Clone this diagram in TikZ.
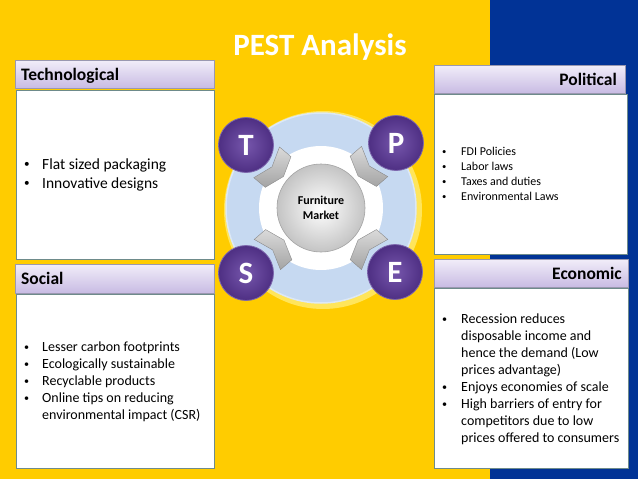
\documentclass[tikz,border=0pt]{standalone}
\usepackage{fontspec}
\usepackage{graphicx}
\setmainfont{Carlito}
\usetikzlibrary{calc,shadings}
\definecolor{bgyellow}{HTML}{FFCC00}
\definecolor{bgblue}{HTML}{013396}
\definecolor{hdrtop}{HTML}{F1EDF9}
\definecolor{hdrbot}{HTML}{C8BBE3}
\definecolor{hdredge}{HTML}{9A98B0}
\definecolor{boxedge}{HTML}{6E8B8B}
\definecolor{ringblue}{HTML}{C6D9F1}
\definecolor{ringedge}{HTML}{DCE8F6}
\definecolor{purplein}{HTML}{7656AC}
\definecolor{purpleout}{HTML}{4E2F83}
\definecolor{purpleedge}{HTML}{7E68AE}
\definecolor{coreout}{HTML}{C4C4C4}
\definecolor{coreedge}{HTML}{A3A3A3}
\definecolor{chevlight}{HTML}{DADADA}
\definecolor{chevdark}{HTML}{A4A4A4}
\definecolor{chevedge}{HTML}{8A8A8A}
\newcommand\smallbul{\raisebox{0.1em}{\scalebox{0.72}{\textbullet}}}
\tikzset{
  hdrbox/.style={draw=hdredge, line width=0.6pt, top color=hdrtop, bottom color=hdrbot,
    minimum height=28pt, inner sep=0pt, anchor=north west},
  bodybox/.style={draw=boxedge, line width=1.2pt, fill=white, inner sep=0pt, anchor=north west},
  hdrtext/.style={font=\fontsize{17.5}{20}\selectfont\bfseries, text=black, inner sep=0pt},
  bodytext/.style={inner sep=0pt, anchor=west, text=black, align=left},
  letterdisc/.style={circle, minimum size=55pt, inner sep=0pt, inner color=purplein,
    outer color=purpleout, draw=purpleedge, line width=0.8pt, text=white,
    font=\fontsize{31}{31}\selectfont\bfseries},
  coredisc/.style={circle, minimum size=88pt, inner sep=0pt, inner color=white,
    outer color=coreout, draw=coreedge, line width=0.6pt, align=center,
    font=\fontsize{12}{15}\selectfont\bfseries},
  chevshape/.style={top color=chevlight, bottom color=chevdark, draw=chevedge, line width=0.4pt, line join=miter}
}
\begin{document}
\begin{tikzpicture}[x=1pt,y=-1pt]
\useasboundingbox (0,0) rectangle (638,479);
\fill[bgyellow] (0,0) rectangle (638,479);
\fill[bgblue] (490,0) rectangle (638,479);

% title
\node[font=\fontsize{31}{31}\selectfont\bfseries, text=white, inner sep=0pt, anchor=base] (title) at (320,55) {PEST Analysis};

% Technological
\node[hdrbox, minimum width=199pt] (th) at (15,60) {};
\node[hdrtext, anchor=base west] (tht) at (21,80.5) {Technological};
\node[bodybox, minimum width=198pt, minimum height=169pt] (tb) at (16,90) {};
\node[bodytext] (tbt) at (24,175) {\fontsize{15.5}{19}\selectfont
  \begin{tabular}{@{}p{18pt}@{}l@{}}
  \smallbul & Flat sized packaging\\
  \smallbul & Innovative designs
  \end{tabular}};

% Social
\node[hdrbox, minimum width=199pt, minimum height=29pt] (sh) at (15,264) {};
\node[hdrtext, anchor=base west] (sht) at (21,284) {Social};
\node[bodybox, minimum width=198pt, minimum height=174pt] (sb) at (16,294) {};
\node[bodytext] (sbt) at (24,382.5) {\fontsize{14}{17}\selectfont
  \begin{tabular}{@{}p{18pt}@{}l@{}}
  \smallbul & Lesser carbon footprints\\
  \smallbul & Ecologically sustainable\\
  \smallbul & Recyclable products\\
  \smallbul & Online tips on reducing\\
   & environmental impact (CSR)
  \end{tabular}};

% Political
\node[hdrbox, minimum width=191pt] (ph) at (434,65) {};
\node[hdrtext, anchor=base east] (pht) at (617,85) {Political};
\node[bodybox, minimum width=193pt, minimum height=160pt] (pb) at (434,94) {};
\node[bodytext] (pbt) at (442,175) {\fontsize{12}{15}\selectfont
  \begin{tabular}{@{}p{19pt}@{}l@{}}
  \smallbul & FDI Policies\\
  \smallbul & Labor laws\\
  \smallbul & Taxes and duties\\
  \smallbul & Environmental Laws
  \end{tabular}};

% Economic
\node[hdrbox, minimum width=194pt] (eh) at (434,259) {};
\node[hdrtext, anchor=base east] (eht) at (622,279) {Economic};
\node[bodybox, minimum width=194pt, minimum height=180pt] (eb) at (434,288) {};
\node[bodytext] (ebt) at (442,380) {\fontsize{14}{17}\selectfont
  \begin{tabular}{@{}p{19pt}@{}l@{}}
  \smallbul & Recession reduces\\
   & disposable income and\\
   & hence the demand (Low\\
   & prices advantage)\\
  \smallbul & Enjoys economies of scale\\
  \smallbul & High barriers of entry for\\
   & competitors due to low\\
   & prices offered to consumers
  \end{tabular}};

% central diagram
\coordinate (ctr) at (321,208);
\coordinate (Tc) at (246,145);
\coordinate (Pc) at (396,143);
\coordinate (Sc) at (246,273);
\coordinate (Ec) at (395,272);
\fill[yellow!35!white, opacity=0.55] ($(ctr)+(2,2)$) circle[radius=99];
\node[circle, minimum size=190pt, inner sep=0pt, fill=ringblue, draw=ringedge, line width=1.5pt] (ring) at (ctr) {};
\node[circle, minimum size=124pt, inner sep=0pt, fill=white] (hole) at (ctr) {};
\foreach \L/\a in {Tc/-40, Pc/-139, Sc/41, Ec/139} {
  \begin{scope}[shift={($(ctr)!49pt!(\L)$)}, rotate=\a]
    \path[chevshape] (0,0) -- (-7,20) -- (-22,20) -- (-15,0) -- (-22,-20) -- (-7,-20) -- cycle;
  \end{scope}
}
\node[coredisc] (core) at (ctr) {Furniture\\Market};
\node[letterdisc] (T) at (Tc) {T};
\node[letterdisc] (P) at (Pc) {P};
\node[letterdisc] (S) at (Sc) {S};
\node[letterdisc] (E) at (Ec) {E};
\end{tikzpicture}
\end{document}
